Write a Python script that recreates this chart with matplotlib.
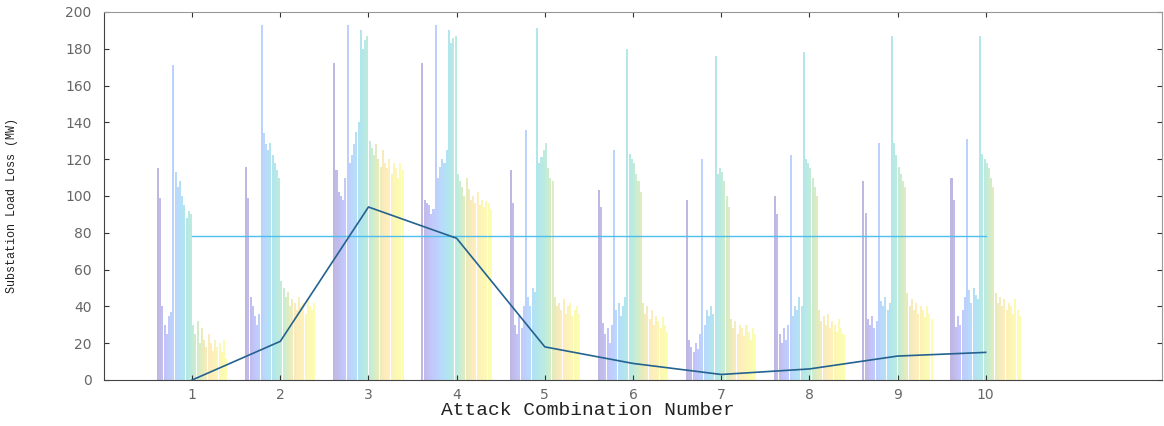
import numpy as np
import matplotlib
matplotlib.use("Agg")
import matplotlib.pyplot as plt
from matplotlib.colors import LinearSegmentedColormap

# ---------------- data ----------------
combos = [1, 2, 3, 4, 5, 6, 7, 8, 9, 10]
tick_labels = ["1", "2", "3", "4", "5", "6", "7", "8", "9", "10"]

g1 = [115, 99, 40, 30, 25, 35, 37, 171, 113, 105, 108, 100, 95, 88, 92, 90,
      30, 25, 32, 20, 28, 22, 18, 25, 20, 16, 22, 18, 20, 15, 22, 12]
g2 = [116, 99, 45, 40, 35, 30, 36, 193, 134, 128, 125, 129, 122, 118, 114, 110,
      54, 50, 45, 48, 40, 44, 42, 38, 45, 40, 42, 36, 44, 40, 38, 42]
g3 = [172, 114, 102, 100, 98, 110, 193, 118, 122, 128, 135, 140, 190, 180, 185, 187,
      130, 126, 122, 128, 120, 116, 125, 118, 115, 120, 112, 118, 115, 110, 118, 114]
g4 = [172, 98, 96, 95, 90, 93, 193, 110, 116, 120, 118, 125, 190, 183, 186, 187,
      112, 108, 105, 100, 110, 104, 98, 100, 96, 102, 95, 98, 94, 97, 96, 93]
g5 = [114, 96, 30, 25, 35, 28, 40, 136, 45, 40, 50, 48, 191, 118, 121, 125,
      129, 115, 110, 108, 45, 40, 42, 38, 44, 36, 40, 42, 35, 38, 40, 36]
g6 = [103, 94, 31, 25, 28, 20, 30, 125, 38, 42, 35, 40, 45, 180, 123, 120,
      118, 112, 108, 102, 42, 36, 40, 33, 38, 30, 35, 32, 28, 34, 30, 26]
g7 = [98, 22, 18, 15, 20, 17, 25, 120, 30, 38, 35, 40, 36, 176, 112, 115,
      113, 108, 100, 94, 33, 28, 32, 25, 30, 28, 24, 30, 26, 22, 28, 25]
g8 = [100, 90, 25, 20, 28, 22, 30, 122, 35, 40, 38, 45, 40, 178, 120, 118,
      115, 110, 105, 100, 38, 32, 35, 30, 36, 28, 32, 30, 26, 33, 28, 25]
g9 = [108, 91, 33, 30, 35, 28, 32, 129, 43, 40, 45, 38, 42, 187, 129, 122,
      116, 112, 108, 105, 47, 40, 44, 38, 42, 36, 40, 38, 34, 40, 36, 33]
g10 = [110, 98, 29, 35, 30, 38, 45, 131, 49, 42, 50, 46, 44, 187, 123, 120,
       118, 115, 110, 105, 47, 42, 45, 40, 44, 38, 42, 40, 36, 44, 38, 35]
groups = [g1, g2, g3, g4, g5, g6, g7, g8, g9, g10]

mean_loss = [0, 21, 94, 77, 18, 9, 3, 6, 13, 15]
threshold = 78

# ---------------- style ----------------
parula = LinearSegmentedColormap.from_list("parula", [
    (0.2422, 0.1504, 0.6603), (0.2810, 0.3228, 0.9579), (0.1786, 0.5289, 0.9682),
    (0.0689, 0.6948, 0.8394), (0.2161, 0.7843, 0.5923), (0.6720, 0.7793, 0.2227),
    (0.9970, 0.7659, 0.2199), (0.9598, 0.8870, 0.1327), (0.9769, 0.9839, 0.0805)])

fig = plt.figure(figsize=(11.64, 4.26), dpi=100)
ax = fig.add_axes([0.0893, 0.108, 0.909, 0.864])

data = np.array(groups)          # shape (10 groups, n series)
n = data.shape[1]
gw = 0.8
step = gw / n
x = np.array(combos, dtype=float)
for i in range(n):
    offs = (i - (n - 1) / 2) * step
    ax.bar(x + offs, data[:, i], width=step * 0.92,
           color=parula(i / (n - 1)), alpha=0.33, linewidth=0, zorder=1)

ax.plot(combos, [threshold] * len(combos), color="#4DBEEE", lw=1.0, zorder=3)
ax.plot(combos, mean_loss, color="#24628f", lw=1.2, zorder=4)

ax.set_xlim(0, 12)
ax.set_ylim(0, 200)
ax.set_xticks(combos)
ax.set_xticklabels(tick_labels)
ax.set_yticks(np.arange(0, 201, 20))
ax.tick_params(direction="in", length=3.5, width=0.8, colors="#333333",
               labelcolor="#666666", labelsize=10, top=True, right=True,
               labelfontfamily="DejaVu Sans")
ax.tick_params(axis="x", pad=6)
ax.tick_params(axis="y", pad=9)
for s in ["left", "bottom"]:
    ax.spines[s].set_color("#444444")
for s in ["top", "right"]:
    ax.spines[s].set_color("#999999")

ax.set_xlabel("Attack Combination Number", family="Liberation Mono",
              fontsize=14, color="#222222", va="center")
ax.xaxis.set_label_coords(0.457, -0.082)
ax.set_ylabel("Substation Load Loss (MW)", family="Liberation Mono",
              fontsize=8.5, color="#222222")
ax.yaxis.set_label_coords(-0.081, 0.475)

fig.savefig("out.png", dpi=100)
